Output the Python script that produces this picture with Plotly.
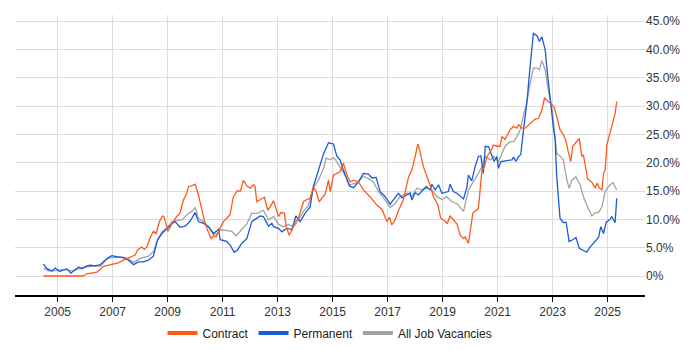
import pandas as pd
import plotly.graph_objects as go

# Decimal years and percentage values
contract_t = [2004.48, 2005.92, 2006.06, 2006.43, 2006.67, 2006.97, 2007.21, 2007.38, 2007.64, 2007.82,
              2007.92, 2008.06, 2008.15, 2008.24, 2008.34, 2008.48, 2008.58, 2008.70, 2008.81, 2008.87,
              2009.01, 2009.15, 2009.33, 2009.45, 2009.57, 2009.67, 2009.76, 2009.88, 2010.00, 2010.12,
              2010.22, 2010.33, 2010.45, 2010.58, 2010.67, 2010.76, 2010.91, 2011.03, 2011.15, 2011.27,
              2011.39, 2011.54, 2011.64, 2011.76, 2011.88, 2012.00, 2012.12, 2012.18, 2012.24, 2012.36,
              2012.52, 2012.64, 2012.73, 2012.85, 2012.95, 2013.03, 2013.12, 2013.24, 2013.31, 2013.42,
              2013.52, 2013.64, 2013.76, 2013.94, 2014.06, 2014.18, 2014.30, 2014.40, 2014.51, 2014.64,
              2014.73, 2014.85, 2014.91, 2015.03, 2015.15, 2015.27, 2015.39, 2015.52, 2015.61, 2015.64,
              2015.76, 2015.94, 2016.12, 2016.36, 2016.61, 2016.79, 2016.97, 2017.07, 2017.15, 2017.27,
              2017.39, 2017.57, 2017.76, 2017.88, 2018.00, 2018.10, 2018.18, 2018.30, 2018.48, 2018.67,
              2018.83, 2018.93, 2019.03, 2019.17, 2019.27, 2019.39, 2019.52, 2019.64, 2019.76, 2019.82,
              2019.94, 2020.10, 2020.30, 2020.43, 2020.52, 2020.61, 2020.73, 2020.85, 2020.97, 2021.09,
              2021.15, 2021.27, 2021.36, 2021.45, 2021.58, 2021.70, 2021.76, 2021.88, 2022.00, 2022.18,
              2022.36, 2022.48, 2022.61, 2022.70, 2022.83, 2022.97, 2023.05, 2023.15, 2023.27, 2023.39,
              2023.49, 2023.57, 2023.66, 2023.73, 2023.85, 2023.97, 2024.06, 2024.12, 2024.27, 2024.43,
              2024.55, 2024.61, 2024.70, 2024.79, 2024.85, 2024.91, 2024.97, 2025.09, 2025.15, 2025.27,
              2025.33]
contract_v = [0.0, 0.0, 0.4, 0.7, 1.7, 2.1, 2.3, 2.8, 3.4, 3.7,
              4.7, 5.1, 4.7, 5.1, 6.5, 7.9, 7.5, 9.6, 10.6, 10.4,
              7.9, 9.2, 10.5, 11.1, 13.4, 14.3, 15.8, 15.9, 16.2, 14.3,
              12.2, 9.9, 8.1, 6.6, 7.1, 6.9, 8.5, 9.6, 10.2, 10.8,
              14.0, 15.1, 14.9, 16.9, 15.9, 15.5, 16.1, 15.8, 13.1, 13.4,
              13.9, 11.6, 12.2, 13.3, 11.9, 10.5, 11.2, 11.1, 8.7, 7.2,
              8.1, 9.6, 10.2, 13.1, 13.5, 13.7, 15.7, 14.9, 13.1, 14.0,
              14.5, 16.9, 14.9, 17.8, 18.1, 18.4, 19.9, 17.8, 16.9, 16.6,
              16.9, 16.6, 15.2, 14.0, 12.5, 11.8, 9.6, 10.4, 9.0, 9.9,
              11.5, 13.4, 17.5, 18.7, 21.1, 23.3, 21.9, 19.3, 16.9, 14.0,
              12.5, 10.2, 9.9, 9.3, 10.6, 9.9, 9.2, 7.2, 6.6, 6.9,
              5.8, 11.1, 11.9, 18.7, 19.3, 21.1, 21.9, 23.1, 22.9, 22.9,
              24.6, 24.1, 24.9, 25.8, 26.4, 26.1, 26.7, 26.1, 26.1, 26.9,
              27.7, 27.8, 29.3, 31.4, 30.8, 30.2, 29.9, 28.1, 25.8, 25.0,
              23.7, 21.9, 20.2, 22.9, 23.7, 24.3, 21.1, 21.4, 17.2, 16.5,
              15.5, 16.4, 15.5, 15.2, 18.1, 18.7, 23.1, 25.2, 26.4, 28.7,
              30.8]

permanent_t = [2004.48, 2004.61, 2004.79, 2004.91, 2005.07, 2005.21, 2005.33, 2005.48, 2005.64, 2005.76,
               2005.88, 2006.06, 2006.18, 2006.36, 2006.55, 2006.79, 2006.97, 2007.15, 2007.39, 2007.58,
               2007.76, 2007.94, 2008.12, 2008.30, 2008.48, 2008.63, 2008.79, 2008.97, 2009.15, 2009.27,
               2009.45, 2009.64, 2009.82, 2010.00, 2010.12, 2010.30, 2010.48, 2010.67, 2010.85, 2010.91,
               2011.15, 2011.27, 2011.42, 2011.54, 2011.70, 2011.88, 2012.06, 2012.18, 2012.36, 2012.48,
               2012.67, 2012.79, 2012.85, 2013.03, 2013.15, 2013.33, 2013.52, 2013.66, 2013.82, 2014.00,
               2014.18, 2014.30, 2014.48, 2014.67, 2014.85, 2015.03, 2015.15, 2015.27, 2015.39, 2015.61,
               2015.76, 2015.94, 2016.12, 2016.30, 2016.43, 2016.58, 2016.73, 2016.91, 2017.09, 2017.27,
               2017.39, 2017.52, 2017.70, 2017.82, 2017.88, 2018.00, 2018.12, 2018.24, 2018.40, 2018.55,
               2018.61, 2018.73, 2018.85, 2018.97, 2019.09, 2019.21, 2019.27, 2019.39, 2019.52, 2019.64,
               2019.76, 2019.88, 2019.94, 2020.06, 2020.18, 2020.30, 2020.39, 2020.48, 2020.55, 2020.67,
               2020.79, 2020.87, 2020.97, 2021.03, 2021.12, 2021.33, 2021.52, 2021.58, 2021.66, 2021.76,
               2021.84, 2021.94, 2022.06, 2022.18, 2022.30, 2022.43, 2022.52, 2022.61, 2022.73, 2022.81,
               2022.91, 2023.03, 2023.09, 2023.15, 2023.27, 2023.39, 2023.49, 2023.60, 2023.73, 2023.85,
               2023.97, 2024.12, 2024.24, 2024.36, 2024.55, 2024.67, 2024.75, 2024.85, 2024.95, 2025.09,
               2025.15, 2025.27, 2025.33]
permanent_v = [2.1, 1.3, 0.9, 1.4, 0.8, 1.1, 1.3, 0.5, 1.1, 1.6,
               1.3, 1.8, 1.9, 1.8, 2.0, 3.1, 3.6, 3.4, 3.3, 2.8,
               2.0, 2.5, 2.5, 2.8, 3.5, 6.4, 7.5, 8.4, 9.2, 9.6,
               8.6, 8.8, 9.7, 11.2, 9.6, 9.3, 8.7, 7.5, 8.2, 6.4,
               6.1, 5.5, 4.2, 4.6, 5.8, 6.6, 9.6, 10.0, 10.6, 10.5,
               8.8, 9.3, 8.7, 8.4, 7.8, 8.4, 8.2, 10.6, 9.6, 11.1,
               12.2, 15.8, 18.7, 21.6, 23.5, 23.3, 21.2, 20.5, 18.7, 15.9,
               15.6, 16.6, 18.1, 18.0, 17.3, 17.4, 14.9, 14.0, 12.7, 13.9,
               14.6, 13.8, 14.4, 14.7, 13.4, 14.7, 14.3, 14.9, 15.8, 15.2,
               16.2, 15.2, 16.1, 14.6, 14.7, 14.9, 16.2, 14.9, 14.6, 14.1,
               13.6, 15.6, 17.8, 16.8, 19.3, 21.1, 21.2, 18.1, 22.9, 22.8,
               21.4, 20.2, 21.1, 19.0, 20.2, 20.4, 20.5, 21.0, 20.2, 21.1,
               21.4, 25.8, 30.5, 36.9, 42.8, 42.4, 41.4, 42.2, 39.9, 35.8,
               31.1, 26.1, 24.1, 17.5, 10.2, 9.4, 9.5, 6.1, 6.4, 6.8,
               4.9, 4.5, 4.2, 5.1, 6.2, 6.8, 8.7, 7.5, 9.5, 10.0,
               10.5, 9.4, 13.7]

all_t = [2004.48, 2004.67, 2004.85, 2005.03, 2005.33, 2005.52, 2005.82, 2006.06, 2006.43, 2006.55,
         2006.79, 2006.97, 2007.27, 2007.52, 2007.76, 2008.00, 2008.30, 2008.48, 2008.61, 2008.79,
         2008.97, 2009.15, 2009.33, 2009.52, 2009.70, 2009.88, 2010.00, 2010.12, 2010.30, 2010.48,
         2010.67, 2010.85, 2010.91, 2011.15, 2011.33, 2011.49, 2011.64, 2011.88, 2012.06, 2012.24,
         2012.48, 2012.67, 2012.85, 2013.03, 2013.21, 2013.39, 2013.58, 2013.76, 2013.94, 2014.12,
         2014.30, 2014.48, 2014.67, 2014.76, 2014.91, 2015.03, 2015.15, 2015.27, 2015.45, 2015.61,
         2015.88, 2016.12, 2016.30, 2016.48, 2016.67, 2016.85, 2017.09, 2017.27, 2017.45, 2017.70,
         2017.88, 2018.06, 2018.24, 2018.43, 2018.61, 2018.79, 2018.97, 2019.15, 2019.33, 2019.52,
         2019.76, 2019.94, 2020.12, 2020.30, 2020.43, 2020.55, 2020.73, 2020.85, 2021.03, 2021.15,
         2021.27, 2021.45, 2021.58, 2021.70, 2021.82, 2021.94, 2022.06, 2022.18, 2022.30, 2022.43,
         2022.52, 2022.61, 2022.73, 2022.85, 2022.97, 2023.05, 2023.15, 2023.27, 2023.39, 2023.52,
         2023.60, 2023.70, 2023.85, 2024.00, 2024.12, 2024.27, 2024.43, 2024.55, 2024.67, 2024.79,
         2024.91, 2025.03, 2025.19, 2025.33]
all_v = [1.4, 0.9, 0.9, 1.1, 1.1, 0.9, 1.3, 1.6, 1.8, 1.7,
         3.0, 3.3, 3.3, 3.1, 2.4, 3.1, 3.5, 4.3, 6.0, 7.8,
         8.4, 9.6, 9.8, 9.9, 10.8, 11.4, 12.1, 10.2, 9.6, 8.7,
         7.2, 7.6, 8.2, 8.0, 7.9, 7.1, 7.9, 9.2, 11.1, 11.0,
         11.6, 9.9, 10.5, 9.1, 8.7, 9.1, 8.7, 9.9, 11.4, 12.5,
         15.5, 16.9, 19.0, 20.8, 20.5, 20.9, 20.2, 19.3, 17.8, 16.1,
         16.4, 17.6, 17.2, 16.6, 14.9, 13.8, 12.1, 12.8, 14.0, 14.6,
         14.0, 15.5, 15.2, 15.5, 15.2, 14.0, 13.5, 14.0, 13.1, 12.8,
         11.4, 15.2, 16.6, 18.1, 19.3, 21.1, 20.5, 21.1, 20.2, 21.7,
         22.9, 23.7, 23.7, 24.6, 25.8, 28.4, 30.5, 34.0, 36.7, 36.7,
         36.4, 38.0, 36.4, 32.5, 29.9, 26.4, 21.6, 21.2, 20.5, 16.9,
         15.5, 16.9, 17.5, 16.1, 14.0, 12.2, 10.6, 11.2, 11.2, 12.2,
         14.9, 15.8, 16.5, 15.2]

y_tick_vals = [0, 5, 10, 15, 20, 25, 30, 35, 40, 45]
y_tick_text = ["0%", "5.0%", "10.0%", "15.0%", "20.0%", "25.0%", "30.0%", "35.0%", "40.0%", "45.0%"]

series = [
    ("Contract", contract_t, contract_v, "#ff5a1a"),
    ("Permanent", permanent_t, permanent_v, "#1a5cd8"),
    ("All Job Vacancies", all_t, all_v, "#a3a3a3"),
]


def to_dates(ts):
    out = []
    for t in ts:
        y = int(t)
        start = pd.Timestamp(year=y, month=1, day=1)
        end = pd.Timestamp(year=y + 1, month=1, day=1)
        out.append(start + (end - start) * (t - y))
    return out


fig = go.Figure()
for name, t, v, col in [series[2], series[1], series[0]]:
    fig.add_trace(go.Scatter(x=to_dates(t), y=v, mode="lines", name=name,
                             line=dict(color=col, width=1.3), showlegend=False,
                             hoverinfo="skip"))
for name, t, v, col in series:
    fig.add_trace(go.Scatter(x=[None], y=[None], mode="lines", name=name,
                             line=dict(color=col, width=4), showlegend=True))

# page body keeps an 8px margin, so the figure is sized to fit inside it
fig.update_layout(
    width=684, height=334,
    margin=dict(l=7, r=47, t=7, b=47, autoexpand=False),
    paper_bgcolor="white", plot_bgcolor="white",
    font=dict(family="Liberation Sans, Arial, sans-serif", size=12, color="#333333"),
    showlegend=True,
    legend=dict(orientation="h", x=0.5, xanchor="center", y=-0.136, yanchor="middle",
                font=dict(size=12, color="#222222"), itemwidth=30, traceorder="normal"),
    xaxis=dict(
        type="date",
        range=["2003-06-14", "2026-05-12"],
        tick0="2005-01-01", dtick="M24", tickformat="%Y",
        showgrid=True, gridcolor="#dcdcdc", gridwidth=1,
        showline=True, linecolor="#000000", linewidth=1.5,
        ticks="outside", ticklen=5, tickcolor="#000000",
        tickfont=dict(size=12, color="#333333"),
        zeroline=False, fixedrange=True, automargin=False,
    ),
    yaxis=dict(
        side="right",
        range=[-3.35, 46.06],
        tickvals=y_tick_vals, ticktext=y_tick_text,
        showgrid=True, gridcolor="#dcdcdc", gridwidth=1,
        showline=False, zeroline=False, ticks="",
        tickfont=dict(size=12, color="#333333"),
        fixedrange=True, automargin=False,
    ),
)

fig.write_html("out.html")
